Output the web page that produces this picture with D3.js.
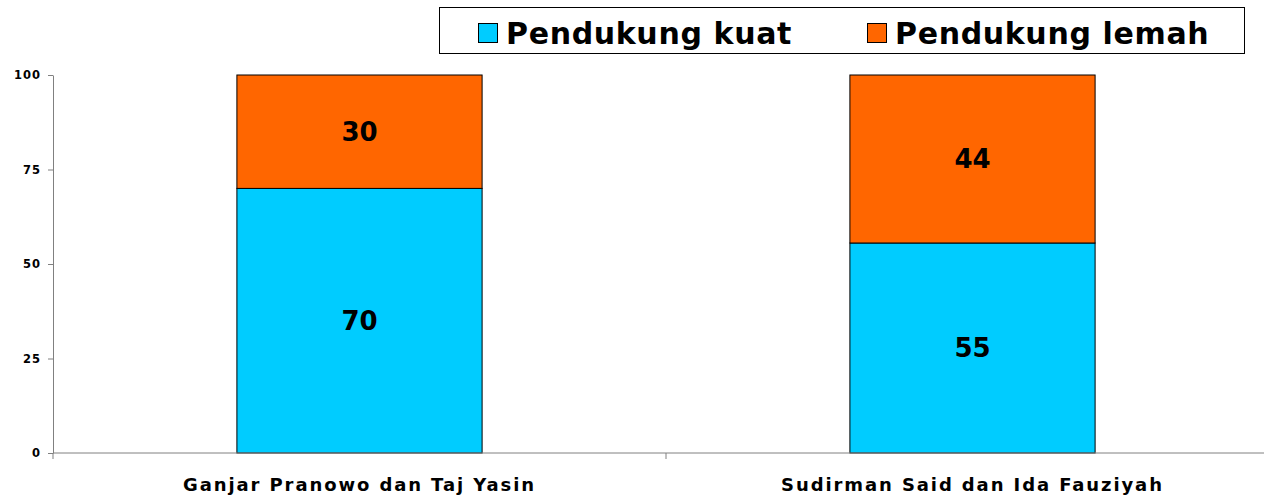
<!DOCTYPE html>
<html>
<head>
<meta charset="utf-8">
<script src="https://cdn.jsdelivr.net/npm/d3@7"></script>
<style>
  body { margin: 0; background: #fff; }
  svg { display: block; font-family: "DejaVu Sans", Verdana, sans-serif; }
</style>
</head>
<body>
<div id="chart"></div>
<script>
const WIDTH = 1264;
const HEIGHT = 498;
const STRONG_COLOR = "#00ccff";
const WEAK_COLOR = "#ff6600";
const AXIS_COLOR = "#808080";

const categories = ["Ganjar Pranowo dan Taj Yasin", "Sudirman Said dan Ida Fauziyah"];
const seriesNames = ["Pendukung kuat", "Pendukung lemah"];
const strongValues = [70, 55];
const weakValues = [30, 44];
const yTicks = [0, 25, 50, 75, 100];

// rows for the stack (100% stacked, like the original)
const rows = categories.map((c, i) => ({ cat: c, kuat: strongValues[i], lemah: weakValues[i] }));

const margin = { top: 75, left: 53, bottom: 45 };
// the plot runs past the right edge in the original, so the range goes beyond WIDTH
const plotRight = 1279;

let svg = d3.select("#chart").append("svg")
  .attr("width", WIDTH)
  .attr("height", HEIGHT);

let x = d3.scaleBand()
  .domain(categories)
  .range([margin.left, plotRight])
  .paddingInner(0)
  .paddingOuter(0);

let y = d3.scaleLinear()
  .domain([0, 100])
  .range([HEIGHT - margin.bottom, margin.top]);

let stack = d3.stack()
  .keys(["kuat", "lemah"])
  .offset(d3.stackOffsetExpand);
let layers = stack(rows);
const colors = [STRONG_COLOR, WEAK_COLOR];

const barW = x.bandwidth() * 0.4;

let g = svg.append("g");

layers.forEach(function (layer, li) {
  g.selectAll(null)
    .data(layer)
    .join("rect")
    .attr("x", d => x(d.data.cat) + (x.bandwidth() - barW) / 2)
    .attr("y", d => y(d[1] * 100))
    .attr("width", barW)
    .attr("height", d => y(d[0] * 100) - y(d[1] * 100))
    .attr("fill", colors[li])
    .attr("stroke", "#000")
    .attr("stroke-width", 1);

  g.selectAll(null)
    .data(layer)
    .join("text")
    .text(d => d.data[layer.key])
    .attr("x", d => x(d.data.cat) + x.bandwidth() / 2)
    .attr("y", d => y((d[0] + d[1]) / 2 * 100))
    .attr("dy", "0.36em")
    .attr("text-anchor", "middle")
    .attr("font-size", "26px")
    .attr("font-weight", "bold")
    .attr("fill", "#000");
});

// y axis
let yAxis = svg.append("g")
  .attr("transform", "translate(" + margin.left + ",0)")
  .call(d3.axisLeft(y).tickValues(yTicks).tickSize(5).tickPadding(7).tickSizeOuter(0));
yAxis.select(".domain").attr("stroke", AXIS_COLOR);
yAxis.selectAll(".tick line").attr("stroke", AXIS_COLOR);
yAxis.selectAll("text")
  .attr("font-size", "11.5px")
  .attr("font-weight", "bold")
  .attr("letter-spacing", "1px")
  .attr("font-family", "DejaVu Sans, Verdana, sans-serif")
  .attr("fill", "#000");

// x axis: separators between categories instead of centred ticks
let xAxisG = svg.append("g")
  .attr("transform", "translate(0," + y(0) + ")");
xAxisG.append("line")
  .attr("x1", margin.left).attr("x2", plotRight)
  .attr("stroke", AXIS_COLOR);
xAxisG.selectAll("line.sep")
  .data(categories)
  .join("line")
  .attr("class", "sep")
  .attr("x1", d => x(d)).attr("x2", d => x(d))
  .attr("y1", 0).attr("y2", 6)
  .attr("stroke", AXIS_COLOR);
xAxisG.selectAll("text")
  .data(categories)
  .join("text")
  .text(d => d)
  .attr("x", d => x(d) + x.bandwidth() / 2)
  .attr("y", 38)
  .attr("text-anchor", "middle")
  .attr("font-size", "18px")
  .attr("font-weight", "bold")
  .attr("letter-spacing", "1.9px")
  .attr("fill", "#000");

// legend
let legend = svg.append("g");
legend.append("rect")
  .attr("x", 439.5).attr("y", 7.5)
  .attr("width", 805).attr("height", 46)
  .attr("fill", "#fff")
  .attr("stroke", "#000")
  .attr("stroke-width", 1);
const legendX = [478, 867];
seriesNames.forEach(function (name, i) {
  legend.append("rect")
    .attr("x", legendX[i] + 0.5).attr("y", 23.5)
    .attr("width", 19).attr("height", 19)
    .attr("fill", colors[i])
    .attr("stroke", "#000");
  legend.append("text")
    .text(name)
    .attr("x", legendX[i] + 28)
    .attr("y", 33)
    .attr("dy", "0.36em")
    .attr("font-size", "30px")
    .attr("font-weight", "bold")
    .attr("letter-spacing", "0.65px")
    .attr("fill", "#000");
});
</script>
</body>
</html>
